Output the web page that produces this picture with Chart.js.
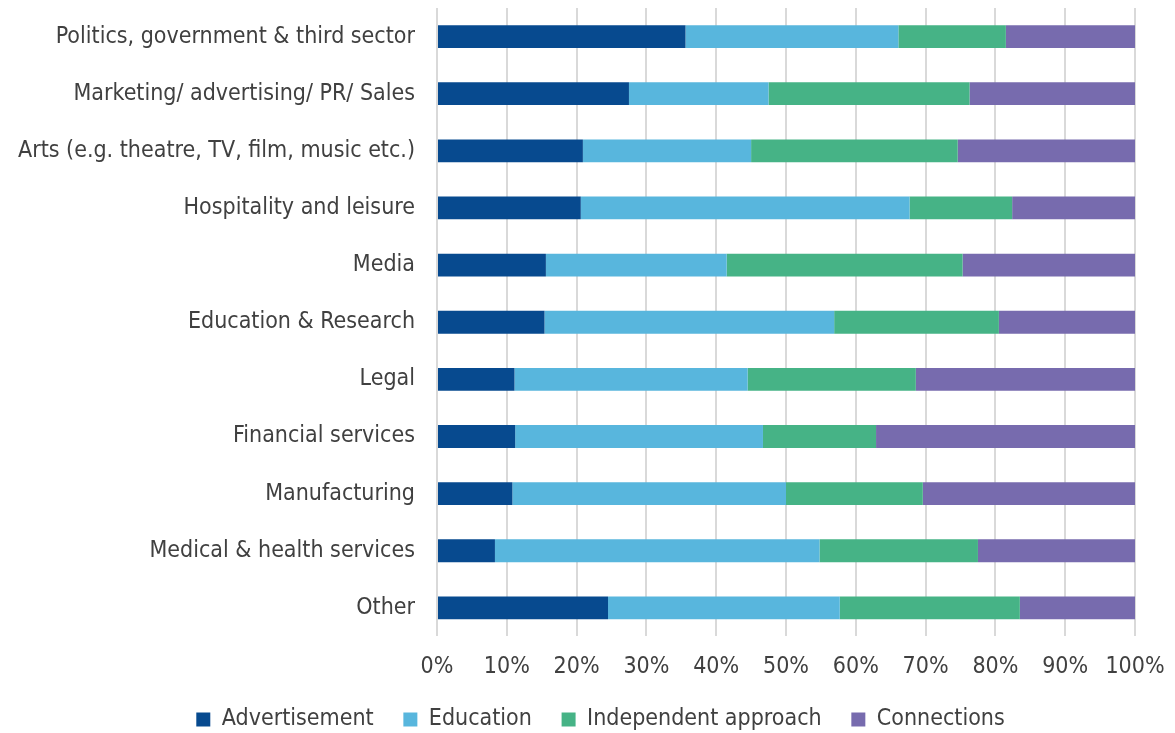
<!DOCTYPE html>
<html>
<head>
<meta charset="utf-8">
<script src="https://cdn.jsdelivr.net/npm/chart.js@4"></script>
<style>
  html, body { margin: 0; padding: 0; background: #fff; }
  #wrap { width: 1175px; height: 733px; }
</style>
</head>
<body>
<div id="wrap"><canvas id="chart"></canvas></div>
<script>
const categories = [
  'Politics, government & third sector',
  'Marketing/ advertising/ PR/ Sales',
  'Arts (e.g. theatre, TV, film, music etc.)',
  'Hospitality and leisure',
  'Media',
  'Education & Research',
  'Legal',
  'Financial services',
  'Manufacturing',
  'Medical & health services',
  'Other'
];
const advertisement = [35.6, 27.5, 20.9, 20.6, 15.6, 15.4, 11.1, 11.2, 10.8, 8.3, 24.5];
const education     = [30.5, 20.0, 24.1, 47.1, 25.9, 41.5, 33.4, 35.5, 39.2, 46.5, 33.2];
const independent   = [15.4, 28.8, 29.6, 14.7, 33.8, 23.6, 24.1, 16.2, 19.6, 22.7, 25.8];
const connections   = [18.5, 23.7, 25.4, 17.6, 24.7, 19.5, 31.4, 37.1, 30.4, 22.5, 16.5];

const FONT = "'Liberation Sans Narrow', 'DejaVu Sans Condensed', 'Liberation Sans', sans-serif";
const TEXT = '#404040';

// the original legend sits a bit right of the canvas centre
const shiftLegend = {
  id: 'shiftLegend',
  afterLayout: chart => { if (chart.legend) chart.legend.left += 66; }
};

new Chart(document.getElementById('chart'), {
  type: 'bar',
  data: {
    labels: categories,
    datasets: [
      { label: 'Advertisement', data: advertisement, backgroundColor: '#074a8f' },
      { label: 'Education', data: education, backgroundColor: '#58b6dd' },
      { label: 'Independent approach', data: independent, backgroundColor: '#46b386' },
      { label: 'Connections', data: connections, backgroundColor: '#776bae' }
    ]
  },
  plugins: [shiftLegend],
  options: {
    indexAxis: 'y',
    responsive: true,
    maintainAspectRatio: false,
    animation: false,
    layout: { padding: { top: 8, right: 40, bottom: -8, left: 0 } },
    datasets: { bar: { categoryPercentage: 0.8, barPercentage: 0.5 } },
    scales: {
      x: {
        stacked: true,
        min: 0,
        max: 100,
        ticks: {
          stepSize: 10,
          color: TEXT,
          padding: 17,
          font: { family: FONT, size: 23 },
          callback: v => v + '%'
        },
        grid: { color: '#d9d9d9', lineWidth: 2, drawTicks: false },
        border: { display: false },
        afterFit: s => { s.paddingLeft = 0; s.paddingRight = 0; }
      },
      y: {
        stacked: true,
        ticks: {
          color: TEXT,
          padding: 14,
          font: { family: FONT, size: 23 }
        },
        grid: { display: false },
        border: { display: false },
        afterFit: s => { s.width = 437; s.paddingTop = 0; s.paddingBottom = 0; }
      }
    },
    plugins: {
      legend: {
        position: 'bottom',
        labels: {
          color: TEXT,
          boxWidth: 14,
          boxHeight: 14,
          padding: 10,
          font: { family: FONT, size: 23 },
          // wider gaps between items, like the original legend
          generateLabels: chart => {
            const items = Chart.defaults.plugins.legend.labels.generateLabels(chart);
            items.forEach((it, i) => { if (i < items.length - 1) it.text += '   '; });
            return items;
          }
        }
      },
      tooltip: { enabled: false }
    }
  }
});
</script>
</body>
</html>
